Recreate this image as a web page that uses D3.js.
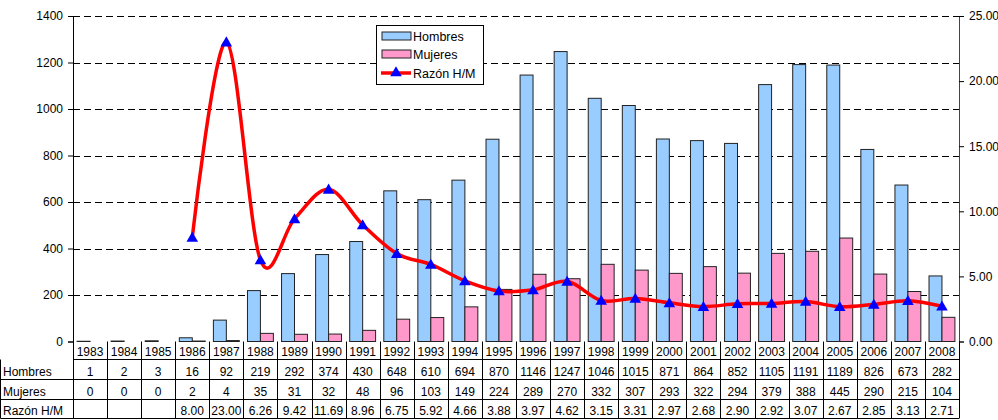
<!DOCTYPE html>
<html><head><meta charset="utf-8">
<script src="https://cdn.jsdelivr.net/npm/d3@7"></script>
<style>
html,body{margin:0;padding:0;background:#fff;}
svg{display:block;font-family:"Liberation Sans",Arial,sans-serif;}
</style></head>
<body>
<svg id="chart" width="998" height="420"></svg>
<script>
const years = [1983,1984,1985,1986,1987,1988,1989,1990,1991,1992,1993,1994,1995,1996,1997,1998,1999,2000,2001,2002,2003,2004,2005,2006,2007,2008];
const hombres = [1,2,3,16,92,219,292,374,430,648,610,694,870,1146,1247,1046,1015,871,864,852,1105,1191,1189,826,673,282];
const mujeres = [0,0,0,2,4,35,31,32,48,96,103,149,224,289,270,332,307,293,322,294,379,388,445,290,215,104];
const razon = [null,null,null,8.00,23.00,6.26,9.42,11.69,8.96,6.75,5.92,4.66,3.88,3.97,4.62,3.15,3.31,2.97,2.68,2.90,2.92,3.07,2.67,2.85,3.13,2.71];
const leftTicks = [0,200,400,600,800,1000,1200,1400];
const rightTicks = [0,5,10,15,20,25];
const seriesNames = ["Hombres","Mujeres","Razón H/M"];

const svg = d3.select("#chart");
const L = 73, R = 959, T = 16, B = 341.5;
const x = d3.scaleBand().domain(years).range([L, R]).paddingInner(0).paddingOuter(0);
const y = d3.scaleLinear().domain([0,1400]).range([B, T]);
const y2 = d3.scaleLinear().domain([0,25]).range([B, T]);
const bw = x.bandwidth() * 0.38;
const cBlue = "#99CCFF", cPink = "#FF99CC";

// gridlines
svg.append("g").selectAll("line").data(leftTicks.filter(d=>d>0)).join("line")
  .attr("x1", L).attr("x2", R).attr("y1", d=>Math.round(y(d))+0.5).attr("y2", d=>Math.round(y(d))+0.5)
  .attr("stroke","#000").attr("stroke-width",1).attr("stroke-dasharray","7,4");

// bars
const g = svg.append("g");
g.selectAll("rect.h").data(years).join("rect")
  .attr("x", (d,i)=>x(d)+x.bandwidth()/2-bw)
  .attr("y", (d,i)=>y(hombres[i]))
  .attr("width", bw).attr("height", (d,i)=>B-y(hombres[i]))
  .attr("fill", cBlue).attr("stroke","#222").attr("stroke-width",1);
g.selectAll("rect.m").data(years).join("rect")
  .attr("x", (d,i)=>x(d)+x.bandwidth()/2)
  .attr("y", (d,i)=>y(mujeres[i]))
  .attr("width", bw).attr("height", (d,i)=>B-y(mujeres[i]))
  .attr("fill", cPink).attr("stroke","#222").attr("stroke-width",1);

// axes
const ax = d3.axisLeft(y).tickValues(leftTicks).tickSize(5).tickPadding(5).tickFormat(d3.format("d"));
const axL = svg.append("g").attr("transform",`translate(${L},0)`).call(ax);
axL.select(".domain").attr("stroke","#000");
axL.selectAll("text").attr("font-size",12).attr("fill","#000").attr("font-family","Liberation Sans, Arial, sans-serif");
const ax2 = d3.axisRight(y2).tickValues(rightTicks).tickSize(5).tickPadding(5).tickFormat(d3.format(".2f"));
const axR = svg.append("g").attr("transform",`translate(${R},0)`).call(ax2);
axR.select(".domain").attr("stroke","#444");
axR.selectAll("text").attr("font-size",12).attr("fill","#000").attr("font-family","Liberation Sans, Arial, sans-serif");

// ratio line
const pts = years.map((d,i)=>({yr:d, v:razon[i]})).filter(p=>p.v!==null);
const line = d3.line().x(p=>x(p.yr)+x.bandwidth()/2).y(p=>y2(p.v)).curve(d3.curveCardinal.tension(0));
svg.append("path").datum(pts).attr("d", line).attr("fill","none").attr("stroke","#FF0000").attr("stroke-width",3.5);
const tri = d3.symbol().type(d3.symbolTriangle).size(58);
svg.append("g").selectAll("path").data(pts).join("path")
  .attr("d", tri).attr("transform", p=>`translate(${x(p.yr)+x.bandwidth()/2},${y2(p.v)+1})`)
  .attr("fill","#0000FF");

// legend
const lg = svg.append("g");
lg.append("rect").attr("x",376.5).attr("y",25.5).attr("width",107).attr("height",59).attr("fill","#fff").attr("stroke","#000");
const ly = [36,54,73];
lg.append("rect").attr("x",382).attr("y",ly[0]-4).attr("width",29).attr("height",8).attr("fill",cBlue).attr("stroke","#222");
lg.append("rect").attr("x",382).attr("y",ly[1]-4).attr("width",29).attr("height",8).attr("fill",cPink).attr("stroke","#222");
lg.append("line").attr("x1",381).attr("x2",411).attr("y1",ly[2]).attr("y2",ly[2]).attr("stroke","#FF0000").attr("stroke-width",3.5);
lg.append("path").attr("d",tri).attr("transform",`translate(396,${ly[2]})`).attr("fill","#0000FF");
lg.selectAll("text").data(seriesNames).join("text")
  .attr("x",413).attr("y",(d,i)=>ly[i]+4.5).attr("font-size",12.5).text(d=>d);

// table
const tb = svg.append("g").attr("font-size",12);
const rowY = [341.5, 359.5, 379.5, 399.5, 418.5];
tb.append("line").attr("x1",L).attr("x2",R).attr("y1",rowY[1]).attr("y2",rowY[1]).attr("stroke","#000");
[2,3,4].forEach(k=>tb.append("line").attr("x1",0.5).attr("x2",R).attr("y1",rowY[k]).attr("y2",rowY[k]).attr("stroke","#000"));
tb.append("line").attr("x1",0.5).attr("x2",0.5).attr("y1",rowY[1]).attr("y2",rowY[4]).attr("stroke","#000");
const vx = years.map(d=>x(d)).concat([R]);
tb.selectAll("line.v").data(vx).join("line")
  .attr("x1",d=>Math.round(d)+0.5).attr("x2",d=>Math.round(d)+0.5)
  .attr("y1",rowY[0]).attr("y2",rowY[4]).attr("stroke","#000");
tb.selectAll("text.yr").data(years).join("text")
  .attr("x",d=>x(d)+x.bandwidth()/2).attr("y",rowY[0]+14.5).attr("text-anchor","middle").text(d=>d);
const rows = [hombres, mujeres, razon.map(v=>v===null?"":v.toFixed(2))];
rows.forEach((arr,k)=>{
  tb.append("text").attr("x",3).attr("y",rowY[k+2]-3.5).text(seriesNames[k]);
  tb.selectAll(null).data(arr).join("text")
    .attr("x",(d,i)=>x(years[i])+x.bandwidth()/2).attr("y",rowY[k+2]-3.5)
    .attr("text-anchor","middle").text(d=>d);
});
</script>
</body></html>
